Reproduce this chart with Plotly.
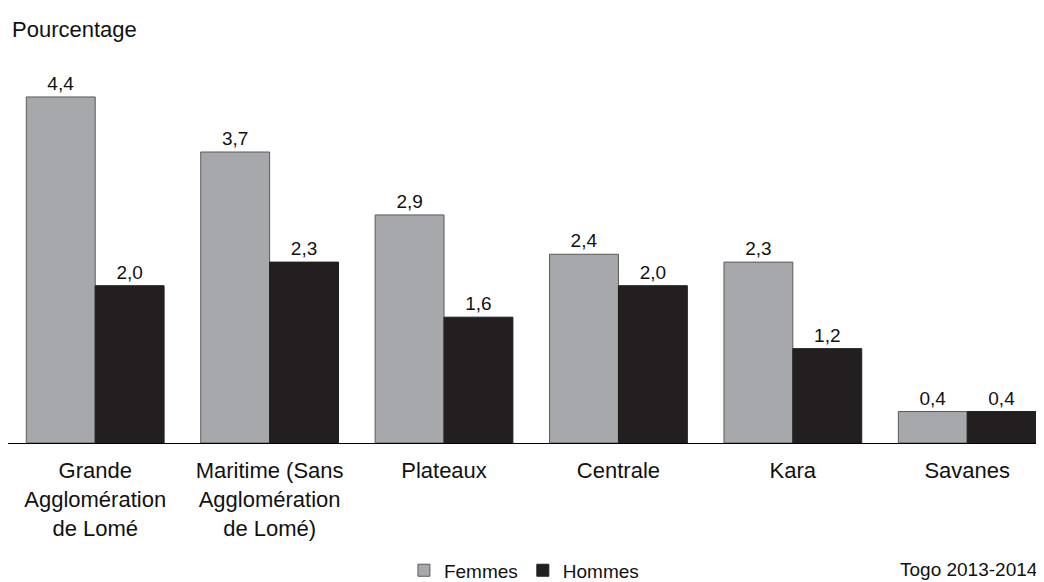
import plotly.graph_objects as go

regions = ["Grande<br>Agglomération<br>de Lomé", "Maritime (Sans<br>Agglomération<br>de Lomé)",
           "Plateaux", "Centrale", "Kara", "Savanes"]
femmes = [4.4, 3.7, 2.9, 2.4, 2.3, 0.4]
hommes = [2.0, 2.3, 1.6, 2.0, 1.2, 0.4]

font_main = "Liberation Sans, Arial, sans-serif"

fig = go.Figure()
fig.add_trace(go.Bar(x=regions, y=femmes, name="Femmes",
                     marker=dict(color="#a7a8ac", line=dict(color="#5a5a5a", width=1)),
                     texttemplate="%{y:.1f}", textposition="outside", cliponaxis=False,
                     textfont=dict(size=19, color="#111111")))
fig.add_trace(go.Bar(x=regions, y=hommes, name="Hommes",
                     marker=dict(color="#231f20", line=dict(color="#231f20", width=1)),
                     texttemplate="%{y:.1f}", textposition="outside", cliponaxis=False,
                     textfont=dict(size=19, color="#111111")))

# the page body has an 8px margin, so the figure is drawn 8px in from the corner
fig.update_layout(
    width=1036, height=574,
    barmode="group", bargap=0.21, bargroupgap=0,
    separators=", ",
    plot_bgcolor="white", paper_bgcolor="white",
    font=dict(family=font_main, color="#111111"),
    margin=dict(l=0, r=0, t=52, b=139, autoexpand=False),
    showlegend=True,
    legend=dict(orientation="h", x=0.498, xanchor="center", y=-0.283, yanchor="top",
                font=dict(size=19), traceorder="normal"),
    annotations=[
        dict(text="Pourcentage", xref="paper", yref="paper", x=0, y=1.0,
             xshift=2, yshift=31, xanchor="left", yanchor="middle",
             showarrow=False, font=dict(size=22)),
        dict(text="Togo 2013-2014", xref="paper", yref="paper", x=1.0, y=0,
             xshift=-4, yshift=-126, xanchor="right", yanchor="middle",
             showarrow=False, font=dict(size=19)),
    ],
)
fig.update_xaxes(range=[-0.5, 5.44], showline=True, linecolor="black", linewidth=1,
                 ticks="", tickfont=dict(size=22), ticklabelstandoff=8, showgrid=False)
fig.update_yaxes(range=[0, 4.87], visible=False, showgrid=False, zeroline=False)

fig.write_html("out.html")
